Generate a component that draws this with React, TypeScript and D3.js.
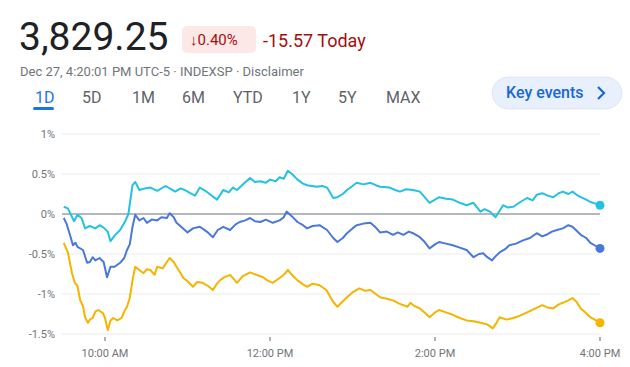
import React from 'react';
import * as d3 from 'd3';

// minutes since 9:30 AM, percent change
const cyanSeries: [number, number][] = [
  [0, 0.09], [3, 0.07], [7.5, -0.09], [10, -0.01], [13, -0.05], [15.5, -0.18], [19, -0.15], [23, -0.18],
  [26, -0.14], [29, -0.17], [32, -0.22], [34, -0.34], [37, -0.27], [41, -0.2], [45, -0.08], [47, 0],
  [50, 0.36], [52, 0.4], [55, 0.3], [59, 0.32], [63, 0.33], [68, 0.29], [74, 0.35], [78, 0.31],
  [81, 0.28], [85, 0.32], [88, 0.3], [92, 0.26], [95.5, 0.23], [99, 0.33], [103, 0.29], [106, 0.25],
  [111.5, 0.18], [116, 0.3], [120, 0.27], [123, 0.33], [126, 0.3], [131, 0.38], [135.5, 0.45], [139, 0.4],
  [143, 0.41], [147, 0.39], [150, 0.43], [154, 0.41], [157, 0.46], [160, 0.44], [163, 0.54], [166, 0.5],
  [170, 0.43], [174, 0.38], [177, 0.36], [184, 0.34], [188, 0.35], [191.5, 0.33], [196, 0.2], [199, 0.21],
  [203, 0.25], [206, 0.3], [210, 0.35], [213, 0.39], [218, 0.37], [223, 0.39], [227, 0.36], [230, 0.34],
  [237, 0.33], [241, 0.3], [244.5, 0.28], [249, 0.31], [254, 0.3], [259, 0.28], [262, 0.22], [266, 0.14],
  [270, 0.18], [273, 0.21], [278, 0.19], [283, 0.18], [288, 0.14], [293, 0.11], [298, 0.14], [303, 0.03],
  [306, 0.06], [310, 0.03], [314, -0.04], [317, 0.04], [319.5, 0.11], [323, 0.08], [327, 0.09], [332, 0.15],
  [337, 0.2], [341, 0.17], [344, 0.24], [348, 0.26], [352, 0.23], [356, 0.21], [360, 0.26], [363, 0.28],
  [367, 0.25], [370, 0.28], [373, 0.24], [376, 0.21], [380, 0.18], [383, 0.15], [387, 0.13], [390, 0.11]
];

const blueSeries: [number, number][] = [
  [0, -0.05], [2, -0.12], [4.5, -0.26], [6.7, -0.39], [8.5, -0.36], [10, -0.41], [14, -0.45], [17, -0.61],
  [19, -0.6], [21, -0.54], [23, -0.58], [26, -0.55], [29, -0.6], [31.5, -0.79], [34, -0.66], [37, -0.66],
  [41, -0.61], [44, -0.55], [46, -0.45], [48, -0.38], [50, -0.16], [52, -0.01], [55, -0.08], [58, -0.05],
  [60.5, -0.11], [64, -0.07], [68, -0.08], [71, -0.04], [75, -0.05], [77, 0.01], [80, -0.04], [82, -0.11],
  [86, -0.17], [90, -0.23], [94, -0.18], [99, -0.16], [104, -0.22], [108.5, -0.29], [112, -0.2], [116, -0.16],
  [121, -0.2], [125, -0.13], [128, -0.1], [132, -0.08], [135.5, -0.05], [139, -0.09], [143, -0.1], [147, -0.07],
  [152, -0.11], [157, -0.08], [160, -0.04], [162, 0.03], [166, -0.03], [170, -0.1], [174, -0.14], [177, -0.18],
  [181, -0.15], [186, -0.14], [191.5, -0.2], [196, -0.3], [199, -0.35], [203, -0.3], [206, -0.24], [210, -0.18],
  [213, -0.14], [218, -0.12], [223, -0.11], [227, -0.17], [230, -0.23], [235, -0.22], [239.5, -0.26], [243, -0.23],
  [247, -0.26], [251, -0.22], [254, -0.24], [259, -0.29], [262, -0.34], [266, -0.43], [270, -0.38], [273, -0.35],
  [278, -0.37], [283, -0.39], [288, -0.42], [293, -0.45], [298, -0.54], [302, -0.5], [305, -0.49], [308, -0.54],
  [311.5, -0.58], [314, -0.53], [317, -0.48], [321, -0.44], [324, -0.39], [329, -0.37], [334, -0.33], [339, -0.3],
  [344, -0.24], [348, -0.28], [351, -0.26], [355, -0.22], [358.7, -0.2], [363, -0.18], [367, -0.14], [370, -0.16],
  [373, -0.21], [376, -0.26], [380, -0.3], [383, -0.36], [387, -0.4], [390, -0.43]
];

const yellowSeries: [number, number][] = [
  [0, -0.36], [3, -0.48], [6, -0.74], [8, -0.86], [10, -0.9], [12, -1.08], [14, -1.15], [15.5, -1.29],
  [17.6, -1.36], [19, -1.32], [21, -1.3], [23, -1.22], [25, -1.2], [28.5, -1.24], [30, -1.3], [32, -1.45],
  [34, -1.33], [36, -1.3], [39, -1.33], [42, -1.3], [44, -1.22], [46, -1.16], [48, -1.05], [50, -0.83],
  [52, -0.66], [55, -0.7], [58, -0.74], [60.5, -0.69], [63, -0.7], [66, -0.76], [68, -0.66], [72, -0.68],
  [75, -0.6], [77, -0.55], [80, -0.6], [82, -0.66], [85, -0.74], [87, -0.8], [90, -0.84], [94, -0.91],
  [97, -0.85], [101, -0.86], [105, -0.9], [108.5, -0.95], [111, -0.88], [113.6, -0.83], [117, -0.79], [121, -0.76],
  [124, -0.82], [126, -0.86], [130, -0.78], [135.5, -0.73], [140, -0.76], [145, -0.79], [148, -0.83], [152, -0.86],
  [157, -0.8], [160, -0.76], [163, -0.7], [166, -0.76], [170, -0.83], [174, -0.88], [177, -0.91], [181, -0.87],
  [186, -0.89], [191, -0.95], [196, -1.1], [199, -1.16], [203, -1.09], [206, -1.04], [210, -0.98], [215, -0.93],
  [219, -0.96], [223, -0.95], [227, -1.0], [230, -1.04], [235, -1.06], [239.5, -1.08], [244, -1.12], [250, -1.16],
  [252, -1.11], [255, -1.15], [259, -1.18], [263, -1.24], [266, -1.29], [270, -1.23], [273, -1.2], [278, -1.23],
  [283, -1.26], [288, -1.3], [293, -1.33], [298, -1.34], [303, -1.36], [308, -1.38], [312, -1.43], [314, -1.38],
  [317, -1.29], [322, -1.32], [327, -1.3], [332, -1.27], [337, -1.23], [342, -1.19], [348, -1.14], [352, -1.17],
  [356, -1.18], [360, -1.13], [363, -1.11], [367, -1.08], [370, -1.05], [373, -1.1], [376, -1.18], [380, -1.24],
  [383, -1.29], [387, -1.33], [390, -1.36]
];

const yTicks = [1, 0.5, 0, -0.5, -1, -1.5];
const xTicks: [number, string][] = [[30, '10:00 AM'], [150, '12:00 PM'], [270, '2:00 PM'], [390, '4:00 PM']];
const ranges = ['1D', '5D', '1M', '6M', 'YTD', '1Y', '5Y', 'MAX'];
const rangeX = [35, 82, 132, 182, 233, 292, 338, 386];

const series = [
  { data: cyanSeries, color: '#24c1e0' },
  { data: blueSeries, color: '#4a78d9' },
  { data: yellowSeries, color: '#f4b400' }
];

const font = 'Roboto, Arial, sans-serif';

export default function App() {
  const width = 630;
  const height = 367;

  const x = d3.scaleLinear().domain([0, 390]).range([63.75, 600]);
  const y = d3.scaleLinear().domain([-1.5, 1]).range([334, 134]);

  const line = d3.line<[number, number]>()
    .x(d => x(d[0]))
    .y(d => y(d[1]));

  return (
    <svg width={width} height={height} style={{ position: 'absolute', left: 0, top: 0, background: '#fff' }} fontFamily={font}>
      {/* header */}
      <text x={19} y={50} fontSize={39} fill="#202124">3,829.25</text>
      <rect x={182} y={26} width={74} height={27} rx={5} fill="#fce8e6" />
      <text x={190} y={45} fontSize={15} fill="#a50e0e">↓0.40%</text>
      <text x={263} y={47} fontSize={18} fill="#a50e0e">-15.57 Today</text>
      <text x={20} y={76} fontSize={13} fill="#70757a">Dec 27, 4:20:01 PM UTC-5 · INDEXSP · Disclaimer</text>

      {ranges.map((r, i) => (
        <text key={r} x={rangeX[i]} y={103} fontSize={16}
          fill={i === 0 ? '#1a73e8' : '#5f6368'}>{r}</text>
      ))}
      <rect x={33} y={107} width={21} height={3} rx={1.5} fill="#1a73e8" />

      <rect x={492} y={77} width={130} height={32} rx={16} fill="#e8f0fe" stroke="#dadce0" strokeWidth={0.6} />
      <text x={506} y={98} fontSize={16} fontWeight={500} fill="#1967d2">Key events</text>
      <path d="M598,87 L604,93 L598,99" fill="none" stroke="#1967d2" strokeWidth={2.2} />

      {/* grid */}
      {yTicks.map(t => (
        <g key={t}>
          <line x1={62} x2={600} y1={y(t)} y2={y(t)}
            stroke={t === 0 ? '#9aa0a6' : '#ececec'} strokeWidth={t === 0 ? 1.3 : 1} />
          <text x={55} y={y(t) + 4} fontSize={11} textAnchor="end" fill="#70757a">{`${t}%`}</text>
        </g>
      ))}

      {xTicks.map(([m, label]) => (
        <g key={label}>
          <line x1={x(m)} x2={x(m)} y1={337} y2={341} stroke="#5f6368" strokeWidth={1} />
          <text x={x(m)} y={357} fontSize={11} textAnchor="middle" fill="#70757a">{label}</text>
        </g>
      ))}

      {series.map(s => (
        <g key={s.color}>
          <path d={line(s.data) || ''} fill="none" stroke={s.color} strokeWidth={2} strokeLinejoin="round" />
          <circle cx={x(s.data[s.data.length - 1][0])} cy={y(s.data[s.data.length - 1][1])} r={4.5} fill={s.color} />
        </g>
      ))}
    </svg>
  );
}
